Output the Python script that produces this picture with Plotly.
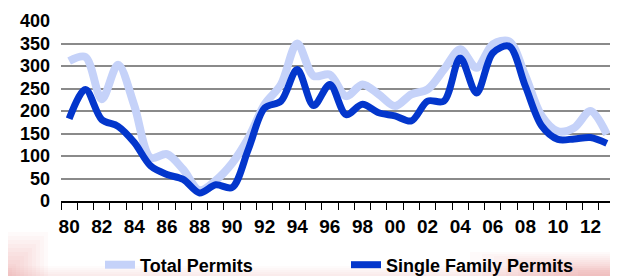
import plotly.graph_objects as go

years = list(range(1980, 2014))
year_labels = [f"{y % 100:02d}" for y in years]

total_permits = [311, 320, 226, 303, 212, 96, 104, 70, 24, 46, 84, 140, 215, 259, 350, 278, 281,
                 233, 259, 237, 211, 237, 248, 292, 337, 296, 348, 355, 278, 189, 155, 163, 200, 148]
single_family = [183, 248, 181, 166, 130, 78, 59, 48, 18, 36, 30, 115, 207, 222, 292, 212, 259,
                 192, 215, 196, 189, 178, 222, 222, 318, 240, 329, 344, 255, 167, 137, 138, 141, 128]

y_ticks = [0, 50, 100, 150, 200, 250, 300, 350, 400]

# page is 618x276; the html body adds an 8px offset, so the figure is shrunk to compensate
PAGE_W, PAGE_H, OFF = 618, 276, 8
W, H = PAGE_W - OFF, PAGE_H - OFF
PL, PR, PT, PB = 61, 615, 21, 201          # plot area in page pixels
ML, MR, MT, MB = PL - OFF, PAGE_W - PR, PT - OFF, PAGE_H - PB
PW, PH = PR - PL, PB - PT

def px(x):
    return (x - PL) / PW

def py(y):
    return (PB - y) / PH

idx = list(range(len(years)))

fig = go.Figure()
fig.add_trace(go.Scatter(
    x=idx, y=total_permits, name="Total Permits", mode="lines",
    line=dict(color="#c5d2f9", width=8, shape="spline", smoothing=0.9),
))
fig.add_trace(go.Scatter(
    x=idx, y=single_family, name="Single Family Permits", mode="lines",
    line=dict(color="#0336cc", width=7, shape="spline", smoothing=0.9),
))

shapes = []
# soft pink vignette along the bottom of the page
for i in range(6):
    shapes.append(dict(type="rect", xref="paper", yref="paper", layer="below",
                       x0=px(OFF), x1=px(PAGE_W), y0=py(PAGE_H), y1=py(266 + i * 2),
                       fillcolor="rgba(225,130,130,0.035)", line=dict(width=0)))
for i in range(10):
    shapes.append(dict(type="rect", xref="paper", yref="paper", layer="below",
                       x0=px(OFF), x1=px(48 - i * 4), y0=py(PAGE_H), y1=py(232 + i * 4),
                       fillcolor="rgba(220,110,110,0.035)", line=dict(width=0)))
for i in range(10):
    shapes.append(dict(type="rect", xref="paper", yref="paper", layer="below",
                       x0=px(470 + i * 12), x1=px(PAGE_W), y0=py(PAGE_H), y1=py(252 + i * 2),
                       fillcolor="rgba(220,110,110,0.03)", line=dict(width=0)))

fig.update_layout(
    width=W, height=H,
    margin=dict(l=ML, r=MR, t=MT, b=MB, pad=0, autoexpand=False),
    paper_bgcolor="white", plot_bgcolor="rgba(0,0,0,0)",
    font=dict(family="Liberation Sans, Arial, sans-serif", color="black", size=19, weight="bold"),
    showlegend=True,
    legend=dict(orientation="h", x=px(100), xanchor="left", y=py(265), yanchor="middle",
                entrywidth=201, entrywidthmode="pixels",
                font=dict(size=18, weight="bold", color="black"),
                bgcolor="rgba(0,0,0,0)", itemwidth=30),
    shapes=shapes,
    xaxis=dict(
        range=[-0.5, len(years) - 0.5], tickmode="array",
        tickvals=idx[::2], ticktext=year_labels[::2],
        ticks="outside", ticklen=7, tickcolor="rgba(0,0,0,0)",
        showgrid=False, zeroline=False,
        showline=True, linecolor="black", linewidth=1.5,
        tickfont=dict(size=19, weight="bold"),
        ticklabelstandoff=0,
        minor=dict(tickmode="linear", tick0=-0.5, dtick=1, ticks="outside",
                   ticklen=7, tickcolor="black", tickwidth=1.3, showgrid=False),
        fixedrange=True,
    ),
    yaxis=dict(
        range=[0, 400], tickmode="array", tickvals=y_ticks,
        showgrid=True, gridcolor="#8a8a8a", gridwidth=1.5,
        zeroline=False, showline=False, ticks="",
        tickfont=dict(size=18, weight="bold"),
        ticklabelstandoff=10,
        fixedrange=True,
    ),
)

fig.write_html("out.html")
